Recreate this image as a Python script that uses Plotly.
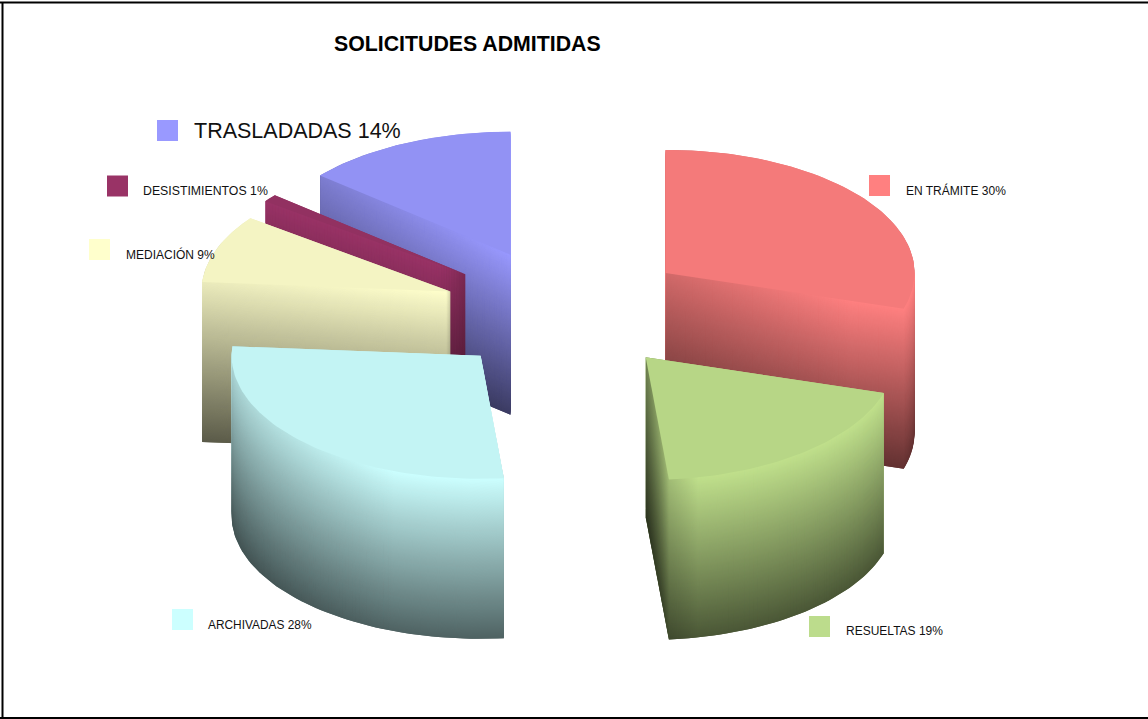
import math
import plotly.graph_objects as go

# ---- data ----
CATEGORIES = ["EN TRÁMITE", "RESUELTAS", "ARCHIVADAS", "MEDIACIÓN", "DESISTIMIENTOS", "TRASLADADAS"]
PERCENTS = [30, 19, 28, 9, 1, 14]
TITLE = "SOLICITUDES ADMITIDAS"

# ---- styles ----
BASE_COLORS = [(255, 128, 128), (192, 224, 140), (204, 255, 255), (255, 255, 204), (153, 51, 102), (153, 153, 255)]
LEGEND_COLORS = ["#FF8080", "#BCDC8C", "#CCFFFF", "#FFFFCC", "#993366", "#9999FF"]
LEFT_SHADE = [
    [[0, 0.18], [0.75, 0.0], [1, 0.0]],
    [[0, 0.42], [0.10, 0.16], [0.22, 0.0], [1, 0.0]],
    [[0, 0.17], [0.6, 0.0], [1, 0.0]],
    [[0, 0.08], [1, 0.0]],
    [[0, 0.0], [1, 0.0]],
    [[0, 0.18], [1, 0.0]],
]
DRAW_ORDER = [5, 4, 3, 2, 0, 1]
NUDGE_X = [-0.5, 1.0, 2.0, 1.0, -3.0, -3.0]
NUDGE_Y = [0.0, 0.0, 2.5, 3.5, 3.0, 1.0]
LEGEND_X = [879.5, 819.5, 182.5, 99.5, 117.5, 167.5]
LEGEND_Y = [185.5, 626.5, 619.5, 249.5, 186, 130.5]
TEXT_X = [906, 846, 208, 126, 143, 194]
TEXT_Y = [190, 631, 625, 254, 190.5, 131]
TEXT_SIZE = [12, 12, 11.9, 12, 12.3, 21.5]

# ---- pie geometry, in the page's pixel space ----
CX, CY = 566, 309.5
RX, RY = 249, 123
EXPLODE = 0.5
DEPTH = 160
STEP = 1
BOTTOM_FACTOR = 0.39
TOP_FACTOR = 0.955


def point(ax, ay, deg):
    r = math.radians(deg)
    return ax + RX * math.sin(r), ay - RY * math.cos(r)


def hull(points):
    pts = sorted(set(points))
    def half(seq):
        out = []
        for p in seq:
            while len(out) > 1 and (out[-1][0] - out[-2][0]) * (p[1] - out[-2][1]) - (out[-1][1] - out[-2][1]) * (p[0] - out[-2][0]) <= 0:
                out.pop()
            out.append(p)
        return out[:-1]
    return half(pts) + half(pts[::-1])


def poly(pts, dy=0.0):
    return [p[0] for p in pts] + [pts[0][0]], [p[1] + dy for p in pts] + [pts[0][1] + dy]


def rgb(c, f):
    return "rgb(%d,%d,%d)" % tuple(round(v * f) for v in c)


total = sum(PERCENTS)
wedges = []
start = 0.0
for k, v in enumerate(PERCENTS):
    sweep = 360.0 * v / total
    mid = math.radians(start + sweep / 2)
    ax = CX + EXPLODE * RX * math.sin(mid) + NUDGE_X[k]
    ay = CY - EXPLODE * RY * math.cos(mid) + NUDGE_Y[k]
    n = max(3, int(sweep / 1.5))
    arc = [point(ax, ay, start + sweep * i / n) for i in range(n + 1)]
    wedges.append([(ax, ay)] + arc)
    start += sweep

fig = go.Figure()
for idx in DRAW_ORDER:
    pts = wedges[idx]
    color = BASE_COLORS[idx]
    sil = hull(pts + [(p[0], p[1] + DEPTH) for p in pts])
    x, y = poly(sil)
    # solid underlay so thin slices do not wash out at their narrow end
    fig.add_trace(go.Scatter(
        x=x, y=y, mode="lines", line=dict(width=0), fill="toself", hoverinfo="skip", showlegend=False,
        fillgradient=dict(type="vertical", start=min(y), stop=max(y),
                          colorscale=[[0, rgb(color, 1.0)], [1, rgb(color, BOTTOM_FACTOR)]])))
    # side walls: stacked copies of the slice, darkening with depth
    for d in range(DEPTH, 0, -STEP):
        sx, sy = poly(pts, d)
        f = 1 - (1 - BOTTOM_FACTOR) * d / DEPTH
        fig.add_trace(go.Scatter(x=sx, y=sy, mode="lines", fill="toself", fillcolor=rgb(color, f),
                                 line=dict(width=0), hoverinfo="skip", showlegend=False))
    # sideways shading of the walls
    fig.add_trace(go.Scatter(
        x=x, y=y, mode="lines", line=dict(width=0), fill="toself", hoverinfo="skip", showlegend=False,
        fillgradient=dict(type="horizontal",
                          colorscale=[[s, "rgba(0,0,0,%g)" % a] for s, a in LEFT_SHADE[idx]])))
    # top face
    tx, ty = poly(pts)
    fig.add_trace(go.Scatter(x=tx, y=ty, mode="lines", fill="toself", fillcolor=rgb(color, TOP_FACTOR),
                             line=dict(width=0), name=CATEGORIES[idx], hoverinfo="name", showlegend=False))

fig.add_trace(go.Scatter(x=LEGEND_X, y=LEGEND_Y, mode="markers", hoverinfo="skip", showlegend=False,
                         marker=dict(symbol="square", size=21, color=LEGEND_COLORS, line=dict(width=0))))

for i, name in enumerate(CATEGORIES):
    fig.add_annotation(x=TEXT_X[i], y=TEXT_Y[i], text=f"{name} {PERCENTS[i]}%", showarrow=False,
                       xanchor="left", yanchor="middle", xshift=-2,
                       font=dict(family="Liberation Sans", size=TEXT_SIZE[i], color="#111111"))
fig.add_annotation(x=334, y=44, text=f"<b>{TITLE}</b>", showarrow=False, xanchor="left", yanchor="middle", xshift=-2,
                   font=dict(family="Liberation Sans", size=21.3, color="#000000"))

frame = dict(type="line", line=dict(color="#000000", width=2))
fig.update_layout(
    width=1148, height=719, margin=dict(l=0, r=0, t=0, b=0),
    paper_bgcolor="#FFFFFF", plot_bgcolor="#FFFFFF", showlegend=False,
    xaxis=dict(range=[0, 1148], visible=False, fixedrange=True),
    yaxis=dict(range=[719, 0], visible=False, fixedrange=True),
    shapes=[
        dict(frame, x0=0, x1=1148, y0=2.5, y1=2.5),
        dict(frame, x0=2.5, x1=2.5, y0=2.5, y1=718),
        dict(frame, x0=0, x1=1148, y0=718, y1=718),
    ],
)
fig.write_html("out.html", config={"displayModeBar": False},
               post_script="document.body.style.margin='0';document.body.style.overflow='hidden';")
